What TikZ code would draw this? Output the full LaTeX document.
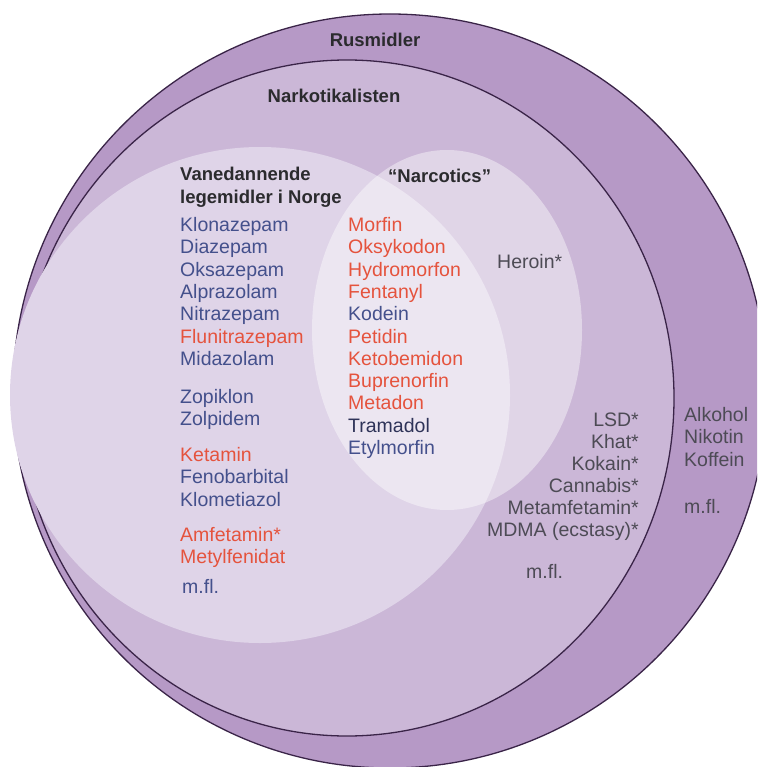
\documentclass[tikz,border=0pt]{standalone}
\usepackage{fontspec}
\setmainfont{Liberation Sans}
\definecolor{ringc}{HTML}{B699C6}
\definecolor{narkc}{HTML}{CBB7D7}
\definecolor{vanc}{HTML}{DFD4E8}
\definecolor{edgec}{HTML}{3A2448}
\definecolor{titc}{HTML}{2B2B2E}
\definecolor{bluec}{HTML}{44508C}
\definecolor{darkbluec}{HTML}{2E3358}
\definecolor{redc}{HTML}{E5533D}
\definecolor{grayc}{HTML}{4D4B55}
\begin{document}
\begin{tikzpicture}[x=1pt,y=-1pt,
  ringline/.style={draw=edgec,line width=1.3pt},
  titletext/.style={font=\fontsize{18.5}{22}\selectfont\bfseries,text=titc,inner sep=0pt},
  itemtext/.style={font=\fontsize{19.5}{22.3}\selectfont,inner sep=0pt,anchor=base west},
  bluetext/.style={itemtext,text=bluec},
  redtext/.style={itemtext,text=redc},
  graytext/.style={itemtext,text=grayc},
  grayright/.style={font=\fontsize{19.5}{22.3}\selectfont,inner sep=0pt,anchor=base east,text=grayc}]
\useasboundingbox (0,0) rectangle (757,767);
\clip (0,0) rectangle (757,767);
% sets
\fill[ringc] (390,391) ellipse [x radius=377pt, y radius=377pt];
\draw[ringline] (390,391) ellipse [x radius=377pt, y radius=377pt];
\fill[narkc] (347,398) ellipse [x radius=327pt, y radius=338pt];
\draw[ringline] (347,398) ellipse [x radius=327pt, y radius=338pt];
\fill[vanc] (260,395) ellipse [x radius=250pt, y radius=248pt];
\fill[white, fill opacity=0.42] (447,330) ellipse [x radius=135pt, y radius=180pt];
% titles
\node[titletext, anchor=base] (rus) at (375,46.5) {Rusmidler};
\node[titletext, anchor=base] (nark) at (334,102.5) {Narkotikalisten};
\node[titletext, anchor=base west] (van1) at (180,181) {Vanedannende};
\node[titletext, anchor=base west] (van2) at (180,203.5) {legemidler i Norge};
\node[titletext, anchor=base west] (narc) at (388,182.5) {“Narcotics”};
% left list
\node[bluetext] (l1) at (180,231.5) {Klonazepam};
\node[bluetext] (l2) at (180,253.8) {Diazepam};
\node[bluetext] (l3) at (180,276.1) {Oksazepam};
\node[bluetext] (l4) at (180,298.4) {Alprazolam};
\node[bluetext] (l5) at (180,320.7) {Nitrazepam};
\node[redtext] (l6) at (180,343) {Flunitrazepam};
\node[bluetext] (l7) at (180,365.3) {Midazolam};
\node[bluetext] (l8) at (180,403.5) {Zopiklon};
\node[bluetext] (l9) at (180,425.8) {Zolpidem};
\node[redtext] (l10) at (180,461.5) {Ketamin};
\node[bluetext] (l11) at (180,483.8) {Fenobarbital};
\node[bluetext] (l12) at (180,506.1) {Klometiazol};
\node[redtext] (l13) at (180,541.5) {Amfetamin*};
\node[redtext] (l14) at (180,563.8) {Metylfenidat};
\node[bluetext] (l15) at (182,593.5) {m.fl.};
% middle list
\node[redtext] (m1) at (348,231.5) {Morfin};
\node[redtext] (m2) at (348,253.8) {Oksykodon};
\node[redtext] (m3) at (348,276.1) {Hydromorfon};
\node[redtext] (m4) at (348,298.4) {Fentanyl};
\node[bluetext] (m5) at (348,320.7) {Kodein};
\node[redtext] (m6) at (348,343) {Petidin};
\node[redtext] (m7) at (348,365.3) {Ketobemidon};
\node[redtext] (m8) at (348,387.6) {Buprenorfin};
\node[redtext] (m9) at (348,409.9) {Metadon};
\node[itemtext, text=darkbluec] (m10) at (348,432.2) {Tramadol};
\node[bluetext] (m11) at (348,454.5) {Etylmorfin};
% heroin
\node[graytext] (her) at (497,268.5) {Heroin*};
% right list
\node[grayright] (r1) at (639,426.5) {LSD*};
\node[grayright] (r2) at (639,448.5) {Khat*};
\node[grayright] (r3) at (639,470.5) {Kokain*};
\node[grayright] (r4) at (639,492.5) {Cannabis*};
\node[grayright] (r5) at (639,514.5) {Metamfetamin*};
\node[grayright] (r6) at (639,536.5) {MDMA (ecstasy)*};
\node[graytext] (r7) at (526,578.5) {m.fl.};
% outer list
\node[graytext] (o1) at (684,421.5) {Alkohol};
\node[graytext] (o2) at (684,443.8) {Nikotin};
\node[graytext] (o3) at (684,466.1) {Koffein};
\node[graytext] (o4) at (684,513.5) {m.fl.};
\end{tikzpicture}
\end{document}
